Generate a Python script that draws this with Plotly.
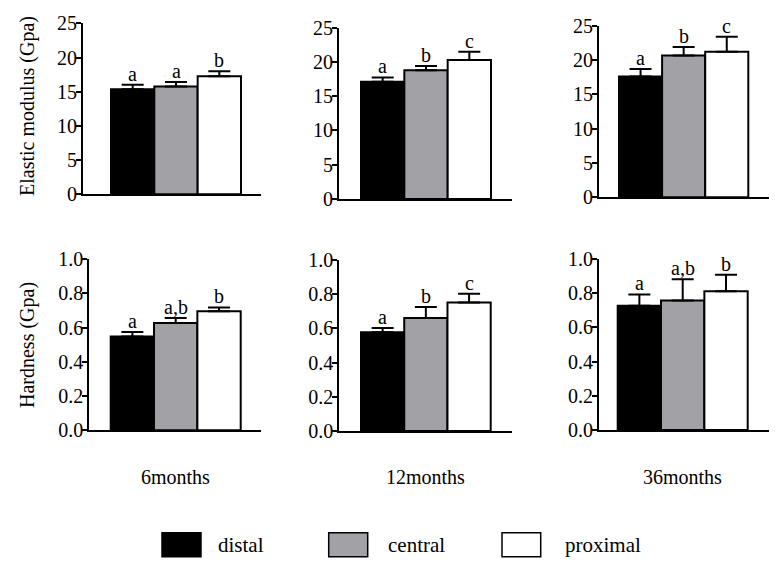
import plotly.graph_objects as go

# ---------------- data ----------------
groups = ["6months", "12months", "36months"]
regions = ["distal", "central", "proximal"]
region_colors = ["#000000", "#a2a1a6", "#ffffff"]

elastic_means = [[15.35, 15.75, 17.25], [17.1, 18.8, 20.3], [17.6, 20.65, 21.2]]
elastic_err = [[0.65, 0.65, 0.75], [0.65, 0.6, 1.2], [1.1, 1.25, 2.2]]
elastic_letters = [["a", "a", "b"], ["a", "b", "c"], ["a", "b", "c"]]

hardness_means = [[0.547, 0.626, 0.695], [0.577, 0.661, 0.752], [0.727, 0.758, 0.811]]
hardness_err = [[0.027, 0.030, 0.022], [0.025, 0.064, 0.051], [0.066, 0.123, 0.097]]
hardness_letters = [["a", "a,b", "b"], ["a", "b", "c"], ["a", "a,b", "b"]]

elastic_ticks = [0, 5, 10, 15, 20, 25]
hardness_ticks = [0.0, 0.2, 0.4, 0.6, 0.8, 1.0]

# ---------------- layout geometry (pixels) ----------------
W, H = 784, 571
FONT = "Liberation Serif"
# (axis_left, bar_start, bar_end, axis_end, top, bottom)
geom = [
    (83, 111, 241, 261, 23.3, 194.3),
    (339, 361, 491, 512, 27.7, 199),
    (599, 619, 748.3, 769.3, 25.7, 197.3),
    (89.3, 110.7, 240.7, 261, 259, 430.3),
    (339.3, 361, 490.7, 511.7, 260, 431),
    (599, 617.7, 747.7, 769.3, 259, 430),
]

fig = go.Figure()
layout = dict(
    template="none",
    width=W, height=H, autosize=False,
    margin=dict(l=0, r=0, t=0, b=0, pad=0),
    paper_bgcolor="white", plot_bgcolor="white",
    showlegend=False,
    font=dict(family=FONT, size=20, color="black"),
)
annotations = []
shapes = []

panels = []
for g in range(3):
    panels.append((elastic_means[g], elastic_err[g], elastic_letters[g], elastic_ticks, "%d"))
for g in range(3):
    panels.append((hardness_means[g], hardness_err[g], hardness_letters[g], hardness_ticks, "%.1f"))

for i, (means, errs, letters, ticks, fmt) in enumerate(panels):
    n = i + 1
    sfx = "" if n == 1 else str(n)
    xa, ya = "x" + sfx, "y" + sfx
    axl, bs, be, ae, top, bot = geom[i]
    upx = (be - bs) / 3.0
    xr = [-0.5 - (bs - axl) / upx, 2.5 + (ae - be) / upx]

    fig.add_trace(go.Bar(
        x=[0, 1, 2], y=means, width=1,
        marker=dict(color=region_colors, line=dict(color="black", width=2)),
        error_y=dict(type="data", symmetric=False, array=errs, arrayminus=[0, 0, 0],
                     color="black", thickness=2, width=11),
        xaxis=xa, yaxis=ya, hoverinfo="skip",
    ))

    layout["xaxis" + sfx] = dict(
        domain=[axl / W, ae / W], range=xr, anchor=ya, automargin=False,
        showline=True, linecolor="black", linewidth=2,
        showticklabels=False, ticks="", showgrid=False, zeroline=False,
    )
    layout["yaxis" + sfx] = dict(
        domain=[1 - bot / H, 1 - top / H], range=[0, ticks[-1]], anchor=xa,
        automargin=False,
        showline=True, linecolor="black", linewidth=2,
        tickvals=ticks, ticktext=[fmt % t for t in ticks],
        ticks="outside", ticklen=5, tickwidth=2, tickcolor="black",
        ticklabelstandoff=-5,
        tickfont=dict(family=FONT, size=20, color="black"),
        showgrid=False, zeroline=False,
    )

    for k in range(3):
        annotations.append(dict(
            x=k, y=means[k] + errs[k], xref=xa, yref=ya,
            text=letters[k], showarrow=False, yanchor="bottom",
            yshift=-2, font=dict(family=FONT, size=20, color="black"),
        ))

    if i >= 3:
        annotations.append(dict(
            x=1, y=1 - 477 / H, xref=xa, yref="paper",
            text=groups[i - 3], showarrow=False, yanchor="middle",
            font=dict(family=FONT, size=20, color="black"),
        ))

# y-axis titles
annotations.append(dict(x=27 / W, y=1 - 106 / H, xref="paper", yref="paper",
                        xanchor="center", yanchor="middle",
                        text="Elastic modulus (Gpa)", textangle=-90, showarrow=False,
                        font=dict(family=FONT, size=20, color="black")))
annotations.append(dict(x=27 / W, y=1 - 345 / H, xref="paper", yref="paper",
                        xanchor="center", yanchor="middle",
                        text="Hardness (Gpa)", textangle=-90, showarrow=False,
                        font=dict(family=FONT, size=20, color="black")))

# legend (boxes + labels)
legend_boxes = [(162, 201), (328.7, 367.7), (502, 540.7)]
legend_text_x = [216, 385.7, 562.7]
for (x0, x1), tx, name, col in zip(legend_boxes, legend_text_x, regions, region_colors):
    shapes.append(dict(type="rect", xref="paper", yref="paper",
                       x0=x0 / W, x1=x1 / W, y0=1 - 556.7 / H, y1=1 - 532.7 / H,
                       fillcolor=col, line=dict(color="black", width=1.5)))
    annotations.append(dict(x=tx / W, y=1 - 545 / H, xref="paper", yref="paper",
                            text=name, showarrow=False, xanchor="left", yanchor="middle",
                            font=dict(family=FONT, size=21, color="black")))

layout["annotations"] = annotations
layout["shapes"] = shapes
fig.update_layout(**layout)
fig.write_html("out.html",
               config={"displayModeBar": False, "staticPlot": True},
               post_script="document.body.style.margin='0';document.body.style.overflow='hidden';")
